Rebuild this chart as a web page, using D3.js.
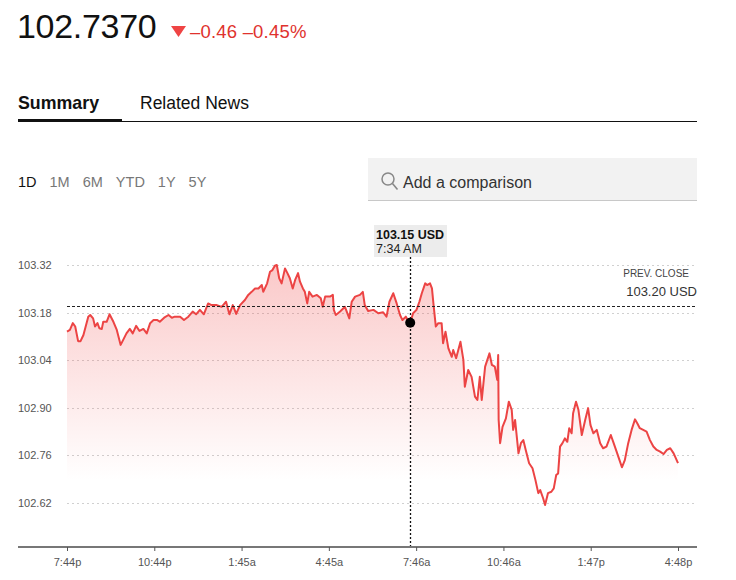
<!DOCTYPE html>
<html>
<head>
<meta charset="utf-8">
<script src="https://cdn.jsdelivr.net/npm/d3@7"></script>
<style>
  body { margin: 0; background: #fff; }
  svg { display: block; font-family: "Liberation Sans", Arial, sans-serif; }
</style>
</head>
<body>
<div id="chart"></div>
<script>
// minutes since 7:44p session start
const minutes = [0, 6, 12, 17, 23, 28, 34, 44, 48, 54, 58, 63, 67, 72, 75, 82, 88, 96, 103, 111,
  116, 123, 130, 136, 143, 150, 158, 165, 172, 179, 187, 192, 201, 210, 217, 223, 234, 242, 251, 260,
  267, 275, 283, 292, 299, 310, 320, 329, 336, 343, 350, 358, 368, 375, 382, 389, 396, 403, 406, 414,
  420, 425, 430, 434, 439, 444, 451, 456, 461, 467, 472, 478, 482, 488, 492, 497, 501, 508, 517, 525,
  529, 534, 544, 550, 552, 556, 565, 575, 584, 589, 596, 606, 612, 616, 623, 634, 644, 654, 661, 667,
  675, 682, 689, 694, 701, 706, 710, 716, 723, 729, 734, 741, 745, 751, 755, 758, 763, 768, 775, 778,
  783, 789, 796, 799, 805, 814, 820, 823, 830, 837, 844, 849, 854, 858, 865, 874, 879, 885, 890, 892,
  893, 896, 901, 908, 914, 920, 923, 927, 934, 939, 944, 949, 956, 963, 969, 975, 979, 985, 989, 995,
  1002, 1007, 1012, 1016, 1020, 1025, 1030, 1035, 1039, 1044, 1047, 1053, 1058, 1065, 1072, 1078, 1083, 1089, 1096, 1103,
  1109, 1116, 1125, 1130, 1137, 1143, 1148, 1154, 1161, 1168, 1175, 1180, 1185, 1192, 1199, 1206, 1213, 1220, 1227, 1234,
  1241, 1248, 1255, 1264];
const prices = [103.124, 103.129, 103.149, 103.139, 103.096, 103.096, 103.114, 103.168, 103.173, 103.163, 103.139, 103.149, 103.134, 103.132, 103.153, 103.153, 103.175, 103.153, 103.129, 103.085,
  103.099, 103.119, 103.132, 103.119, 103.141, 103.126, 103.132, 103.119, 103.149, 103.158, 103.158, 103.153, 103.165, 103.173, 103.165, 103.168, 103.168, 103.158, 103.168, 103.183,
  103.175, 103.188, 103.175, 103.207, 103.202, 103.202, 103.197, 103.212, 103.175, 103.202, 103.176, 103.202, 103.217, 103.232, 103.241, 103.251, 103.251, 103.261, 103.241, 103.266,
  103.300, 103.305, 103.318, 103.320, 103.281, 103.266, 103.310, 103.296, 103.281, 103.251, 103.276, 103.296, 103.271, 103.251, 103.241, 103.207, 103.241, 103.227, 103.232, 103.222,
  103.197, 103.227, 103.227, 103.232, 103.188, 103.173, 103.183, 103.197, 103.163, 103.212, 103.227, 103.232, 103.241, 103.202, 103.185, 103.188, 103.178, 103.181, 103.168, 103.212,
  103.237, 103.207, 103.173, 103.158, 103.168, 103.155, 103.150, 103.178, 103.188, 103.212, 103.237, 103.266, 103.261, 103.266, 103.251, 103.207, 103.139, 103.149, 103.149, 103.090,
  103.124, 103.075, 103.050, 103.070, 103.046, 103.094, 103.041, 102.962, 103.011, 102.991, 102.933, 102.923, 102.991, 102.923, 103.021, 103.060, 103.026, 103.021, 102.982, 103.055,
  102.864, 102.796, 102.844, 102.869, 102.918, 102.894, 102.835, 102.864, 102.766, 102.796, 102.805, 102.776, 102.737, 102.722, 102.688, 102.649, 102.658, 102.634, 102.614, 102.649,
  102.653, 102.663, 102.702, 102.707, 102.786, 102.796, 102.810, 102.800, 102.840, 102.825, 102.884, 102.918, 102.894, 102.820, 102.864, 102.899, 102.849, 102.825, 102.835, 102.796,
  102.781, 102.786, 102.820, 102.800, 102.771, 102.746, 102.725, 102.746, 102.796, 102.835, 102.866, 102.854, 102.840, 102.835, 102.830, 102.805, 102.786, 102.776, 102.771, 102.764,
  102.776, 102.781, 102.766, 102.737];

const yTicks = [102.62, 102.76, 102.90, 103.04, 103.18, 103.32];
const xTickLabels = ['7:44p', '10:44p', '1:45a', '4:45a', '7:46a', '10:46a', '1:47p', '4:48p'];
const ranges = ['1D', '1M', '6M', 'YTD', '1Y', '5Y'];
const tabs = ['Summary', 'Related News'];
const lastPrice = '102.7370';
const change = '–0.46 –0.45%';
const prevClose = 103.20;
const hoverIndex = 106; // 7:34 AM
const hoverLabel = ['103.15 USD', '7:34 AM'];

const W = 736, H = 580;
const svg = d3.select('#chart').append('svg').attr('width', W).attr('height', H);

const x = d3.scaleLinear().domain([0, 1264]).range([67, 678]);
const y = d3.scaleLinear().domain([102.62, 103.32]).range([503, 265]);
const plotRight = 697, axisY = 547;

// header
svg.append('text').attr('x', 17).attr('y', 38).attr('font-size', 34).attr('fill', '#111')
  .attr('letter-spacing', -0.3).text(lastPrice);
svg.append('path').attr('d', 'M171,26 L186,26 L178.5,37 Z').attr('fill', '#ef4444');
svg.append('text').attr('x', 190).attr('y', 38).attr('font-size', 18.5).attr('letter-spacing', 0.2)
  .attr('fill', '#e0322d').text(change);

// tabs
svg.append('text').attr('x', 18).attr('y', 109).attr('font-size', 17.8).attr('font-weight', 'bold')
  .attr('fill', '#111').text(tabs[0]);
svg.append('text').attr('x', 140).attr('y', 109).attr('font-size', 17.5).attr('fill', '#111').text(tabs[1]);
svg.append('rect').attr('x', 18).attr('y', 119).attr('width', 104).attr('height', 3).attr('fill', '#111');
svg.append('line').attr('x1', 122).attr('x2', plotRight).attr('y1', 121.5).attr('y2', 121.5)
  .attr('stroke', '#111').attr('stroke-width', 1);

// range buttons
let rx = 18;
ranges.forEach((r, i) => {
  const t = svg.append('text').attr('x', rx).attr('y', 187).attr('font-size', 14.5)
    .attr('fill', i === 0 ? '#111' : '#777').text(r);
  rx += t.node().getComputedTextLength() + 13;
});

// comparison box
svg.append('rect').attr('x', 368).attr('y', 158).attr('width', 329).attr('height', 42).attr('fill', '#f2f2f2');
svg.append('line').attr('x1', 368).attr('x2', 697).attr('y1', 200.5).attr('y2', 200.5).attr('stroke', '#c8c8c8');
svg.append('circle').attr('cx', 388).attr('cy', 179).attr('r', 6).attr('fill', 'none')
  .attr('stroke', '#888').attr('stroke-width', 1.5);
svg.append('line').attr('x1', 392.5).attr('y1', 183.5).attr('x2', 397.5).attr('y2', 189.5)
  .attr('stroke', '#888').attr('stroke-width', 1.6);
svg.append('text').attr('x', 403).attr('y', 188).attr('font-size', 16).attr('fill', '#333').text('Add a comparison');

// gradient for the area
const grad = svg.append('defs').append('linearGradient').attr('id', 'fade')
  .attr('gradientUnits', 'userSpaceOnUse').attr('x1', 0).attr('x2', 0).attr('y1', 265).attr('y2', 480);
grad.append('stop').attr('offset', 0).attr('stop-color', '#f04a4a').attr('stop-opacity', 0.3);
grad.append('stop').attr('offset', 1).attr('stop-color', '#f04a4a').attr('stop-opacity', 0);

// grid
svg.append('g').selectAll('line').data(yTicks).join('line')
  .attr('x1', 67).attr('x2', plotRight)
  .attr('y1', d => Math.round(y(d)) + 0.5).attr('y2', d => Math.round(y(d)) + 0.5)
  .attr('stroke', '#d0d0d0').attr('stroke-dasharray', '2,3');
svg.append('g').selectAll('text').data(yTicks).join('text')
  .attr('x', 18).attr('y', d => y(d) + 4).attr('font-size', 11).attr('fill', '#555')
  .text(d => d.toFixed(2));

const pts = minutes.map((m, i) => [m, prices[i]]);

// area + line
svg.append('path').datum(pts)
  .attr('d', d3.area().x(d => x(d[0])).y0(axisY).y1(d => y(d[1])))
  .attr('fill', 'url(#fade)');
svg.append('path').datum(pts)
  .attr('d', d3.line().x(d => x(d[0])).y(d => y(d[1])))
  .attr('fill', 'none').attr('stroke', '#ec4444').attr('stroke-width', 2).attr('stroke-linejoin', 'round');

// prev close
svg.append('line').attr('x1', 67).attr('x2', plotRight)
  .attr('y1', Math.round(y(prevClose)) + 0.5).attr('y2', Math.round(y(prevClose)) + 0.5)
  .attr('stroke', '#222').attr('stroke-dasharray', '3,2');
svg.append('text').attr('x', 689).attr('y', 277).attr('text-anchor', 'end').attr('font-size', 10)
  .attr('fill', '#444').text('PREV. CLOSE');
svg.append('text').attr('x', 697).attr('y', 296).attr('text-anchor', 'end').attr('font-size', 13)
  .attr('fill', '#333').text(prevClose.toFixed(2) + ' USD');

// x axis
const xTicks = d3.range(xTickLabels.length).map(i => i * 1264 / (xTickLabels.length - 1));
const xAxis = svg.append('g').attr('transform', `translate(0,${axisY})`)
  .call(d3.axisBottom(x).tickValues(xTicks).tickSize(4).tickFormat((d, i) => xTickLabels[i]));
xAxis.select('.domain').remove();
xAxis.insert('line', ':first-child').attr('x1', 18).attr('x2', plotRight).attr('stroke', '#777').attr('stroke-width', 2);
xAxis.selectAll('.tick line').attr('stroke', '#555');
xAxis.selectAll('.tick text').attr('font-size', 11).attr('fill', '#555').attr('dy', '1.1em')
  .attr('font-family', '"Liberation Sans", Arial, sans-serif');

// hover crosshair
const hx = x(minutes[hoverIndex]), hy = y(prices[hoverIndex]);
svg.append('line').attr('x1', Math.round(hx) + 0.5).attr('x2', Math.round(hx) + 0.5)
  .attr('y1', 257).attr('y2', axisY - 1)
  .attr('stroke', '#111').attr('stroke-width', 1.3).attr('stroke-dasharray', '2,2');
svg.append('circle').attr('cx', hx).attr('cy', hy).attr('r', 5).attr('fill', '#000');
svg.append('rect').attr('x', 374).attr('y', 225).attr('width', 73).attr('height', 32).attr('fill', '#ececec');
svg.append('text').attr('x', 376).attr('y', 239).attr('font-size', 12.5).attr('font-weight', 'bold')
  .attr('fill', '#111').text(hoverLabel[0]);
svg.append('text').attr('x', 376).attr('y', 253).attr('font-size', 12.5).attr('fill', '#222').text(hoverLabel[1]);
</script>
</body>
</html>
